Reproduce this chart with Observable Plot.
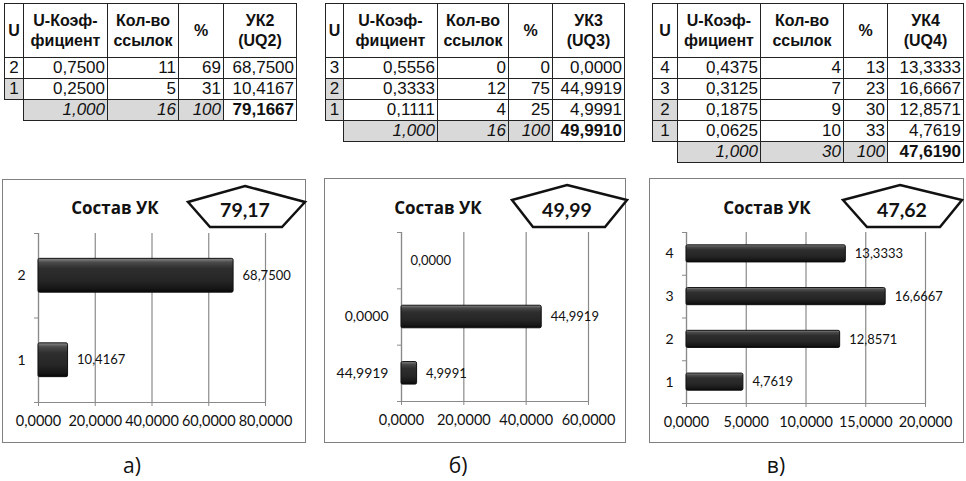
<!DOCTYPE html>
<html>
<head>
<meta charset="utf-8">
<script src="https://cdn.jsdelivr.net/npm/d3@7"></script>
<script src="https://cdn.jsdelivr.net/npm/@observablehq/plot@0.6"></script>
<style>
  html, body { margin: 0; padding: 0; background: #fff; }
  #page { position: relative; width: 966px; height: 481px; overflow: hidden; background: #fff; }
  .tbl { position: absolute; border-collapse: collapse; table-layout: fixed;
         font-family: "Liberation Sans", Arial, sans-serif; font-size: 17px; color: #111; }
  .tbl td, .tbl th { border: 1.5px solid #222; padding: 0 2px; height: 20px; line-height: 20px;
                     text-align: right; white-space: nowrap; overflow: hidden; }
  .tbl th { font-weight: bold; text-align: center; height: 53px; font-size: 16px; }
  .tbl td.u { text-align: center; padding: 0; }
  .tbl td.sh { background: #d9d9d9; }
  .tbl td.it { font-style: italic; background: #d9d9d9; }
  .tbl td.bd { font-weight: bold; }
  .tbl td.blank { border-left: none; border-bottom: none; background: #fff; }
  .box { position: absolute; box-sizing: border-box; border: 1.5px solid #808080; background: #fff; }
  .plot { position: absolute; }
  .cap { position: absolute; font-family: "Open Sans", "Noto Sans", sans-serif; font-size: 21px; color: #111;
         transform: translate(-50%, -50%); }
</style>
</head>
<body>
<div id="page">
  <svg width="0" height="0" style="position:absolute">
    <defs>
      <linearGradient id="barGrad" x1="0" y1="0" x2="0" y2="1">
        <stop offset="0%" stop-color="#8a8a8a"/>
        <stop offset="12%" stop-color="#4a4a4a"/>
        <stop offset="30%" stop-color="#2e2e2e"/>
        <stop offset="65%" stop-color="#262626"/>
        <stop offset="90%" stop-color="#161616"/>
        <stop offset="100%" stop-color="#050505"/>
      </linearGradient>
    </defs>
  </svg>
</div>
<script>
// ---------- Table data ----------
const headers = ["U", "U-Коэф-<br>фициент", "Кол-во<br>ссылок", "%"];
const ukHeaders = ["УК2<br>(UQ2)", "УК3<br>(UQ3)", "УК4<br>(UQ4)"];

const t1U = [2, 1];
const t1Coef = [0.7500, 0.2500];
const t1Refs = [11, 5];
const t1Pct = [69, 31];
const t1UK = [68.7500, 10.4167];
const t1Shade = [false, true];

const t2U = [3, 2, 1];
const t2Coef = [0.5556, 0.3333, 0.1111];
const t2Refs = [0, 12, 4];
const t2Pct = [0, 75, 25];
const t2UK = [0.0000, 44.9919, 4.9991];
const t2Shade = [false, true, true];

const t3U = [4, 3, 2, 1];
const t3Coef = [0.4375, 0.3125, 0.1875, 0.0625];
const t3Refs = [4, 7, 9, 10];
const t3Pct = [13, 23, 30, 33];
const t3UK = [13.3333, 16.6667, 12.8571, 4.7619];
const t3Shade = [false, false, true, true];

const totalCoef = ["1,000", "1,000", "1,000"];
const totalRefs = [16, 16, 30];
const totalPct = [100, 100, 100];
const totalUK = [79.1667, 49.9910, 47.6190];

// ---------- Chart data (bottom to top) ----------
const c1Cats = ["1", "2"];
const c1Vals = [10.4167, 68.7500];
const c2Cats = ["44,9919", "0,0000", ""];
const c2Vals = [4.9991, 44.9919, 0.0000];
const c3Cats = ["1", "2", "3", "4"];
const c3Vals = [4.7619, 12.8571, 16.6667, 13.3333];

const captions = ["а)", "б)", "в)"];
const chartTitle = "Состав УК";

// ---------- helpers ----------
const page = document.getElementById("page");
const f4 = v => d3.format(".4f")(v).replace(".", ",");
const f2 = v => d3.format(".2f")(v).replace(".", ",");

function makeTable(idx, U, coef, refs, pct, uk, shade, left, top, widths) {
  const t = document.createElement("table");
  t.className = "tbl";
  t.style.left = left + "px";
  t.style.top = top + "px";
  t.style.width = d3.sum(widths) + "px";
  let html = "<colgroup>" + widths.map(w => `<col style="width:${w}px">`).join("") + "</colgroup>";
  html += "<tr>" + headers.map(h => `<th>${h}</th>`).join("") + `<th>${ukHeaders[idx]}</th></tr>`;
  U.forEach((u, i) => {
    html += `<tr><td class="u${shade[i] ? " sh" : ""}">${u}</td><td>${f4(coef[i])}</td><td>${refs[i]}</td><td>${pct[i]}</td><td>${f4(uk[i])}</td></tr>`;
  });
  html += `<tr><td class="blank"></td><td class="it">${totalCoef[idx]}</td><td class="it">${totalRefs[idx]}</td><td class="it">${totalPct[idx]}</td><td class="bd">${f4(totalUK[idx])}</td></tr>`;
  t.innerHTML = html;
  page.appendChild(t);
}

makeTable(0, t1U, t1Coef, t1Refs, t1Pct, t1UK, t1Shade, 4, 3, [19, 84, 71, 45, 73]);
makeTable(1, t2U, t2Coef, t2Refs, t2Pct, t2UK, t2Shade, 325, 3, [18, 94, 71, 44, 72]);
makeTable(2, t3U, t3Coef, t3Refs, t3Pct, t3UK, t3Shade, 652, 3, [25, 83, 83, 44, 76]);

function addBox(l, t, r, b) {
  const d = document.createElement("div");
  d.className = "box";
  Object.assign(d.style, {left: l + "px", top: t + "px", width: (r - l) + "px", height: (b - t) + "px"});
  page.appendChild(d);
}

function barChart(cats, vals, xMax, xStep, pos) {
  const data = vals.map((v, i) => ({i, v, cat: cats[i]}));
  const n = data.length;
  const xt = d3.range(0, xMax + xStep / 2, xStep);
  const svg = Plot.plot({
    width: pos.w, height: pos.h,
    marginLeft: pos.mL, marginRight: pos.mR, marginTop: pos.mT, marginBottom: pos.mB,
    style: {fontFamily: "Lato, 'Open Sans', sans-serif", color: "#111", background: "transparent", overflow: "visible"},
    x: {domain: [0, xMax], label: null},
    y: {domain: [0, n], label: null},
    marks: [
      Plot.gridX(xt, {stroke: "#8a8a8a", strokeOpacity: 1, strokeWidth: 1.2}),
      Plot.ruleX([0], {stroke: "#8a8a8a", strokeWidth: 1.2}),
      Plot.ruleY([0], {stroke: "#8a8a8a", strokeWidth: 1.2}),
      Plot.axisX({ticks: xt, tickSize: 4, tickPadding: 9, tickFormat: f4, stroke: "#8a8a8a", fill: "#111", fontSize: 14.5, label: null}),
      Plot.axisY({ticks: d3.range(n + 1), tickSize: 4, tickFormat: () => "", stroke: "#8a8a8a", label: null}),
      Plot.axisY({ticks: data.map(d => d.i + 0.5), tickSize: 0, tickPadding: 13, tickFormat: t => cats[Math.floor(t)], fill: "#111", fontSize: 14, label: null}),
      Plot.rectX(data, {filter: d => d.v > 0, x1: 0, x2: "v", y1: d => d.i + 0.3, y2: d => d.i + 0.7,
        fill: "url(#barGrad)", stroke: "#111", strokeWidth: 1, rx: 1.5}),
      Plot.text(data, {x: "v", y: d => d.i + 0.5, text: d => f4(d.v), dx: 9, textAnchor: "start", fontSize: 13, fill: "#111"})
    ]
  });
  svg.classList.add("plot");
  svg.style.left = pos.l + "px";
  svg.style.top = pos.t + "px";
  page.appendChild(svg);
}

addBox(2, 179, 306, 443);
addBox(324, 178, 626, 443);
addBox(649, 178, 964, 443);

barChart(c1Cats, c1Vals, 80, 20, {l: 2, t: 215, w: 304, h: 228, mL: 36, mR: 41, mT: 18, mB: 41});
barChart(c2Cats, c2Vals, 60, 20, {l: 324, t: 215, w: 302, h: 228, mL: 77, mR: 38, mT: 17, mB: 42});
barChart(c3Cats, c3Vals, 20, 5, {l: 649, t: 215, w: 315, h: 228, mL: 37, mR: 39, mT: 17, mB: 40});

// ---------- titles & pentagon callouts ----------
const ns = "http://www.w3.org/2000/svg";
const over = document.createElementNS(ns, "svg");
over.setAttribute("width", 966);
over.setAttribute("height", 481);
over.style.position = "absolute";
over.style.left = "0px";
over.style.top = "0px";
over.style.pointerEvents = "none";
const titlePos = [[115, 207], [438, 207], [767, 207]];
const pent = [
  [[245,186],[305,202],[282,227],[210,227],[188,202]],
  [[567,185],[627,200],[605,227],[533,227],[512,200]],
  [[900,185],[962,200],[940,227],[867,227],[843,200]]
];
const pentText = [[245, 209], [567, 209], [902, 209]];
const ov = d3.select(over);
titlePos.forEach((p, k) => {
  ov.append("text").attr("x", p[0]).attr("y", p[1]).attr("text-anchor", "middle").attr("dominant-baseline", "central")
    .attr("font-family", "'Open Sans', 'Noto Sans', sans-serif").attr("font-weight", "bold").attr("font-size", 17)
    .attr("fill", "#111").text(chartTitle);
  ov.append("polygon").attr("points", pent[k].map(q => q.join(",")).join(" "))
    .attr("fill", "#fff").attr("stroke", "#111").attr("stroke-width", 2.5).attr("stroke-linejoin", "miter");
  ov.append("text").attr("x", pentText[k][0]).attr("y", pentText[k][1]).attr("text-anchor", "middle").attr("dominant-baseline", "central")
    .attr("font-family", "Lato, 'Open Sans', sans-serif").attr("font-weight", "bold").attr("font-size", 19.5)
    .attr("fill", "#111").text(f2(totalUK[k]));
});
page.appendChild(over);

// ---------- captions ----------
const capX = [132, 458, 776];
captions.forEach((c, k) => {
  const d = document.createElement("div");
  d.className = "cap";
  d.style.left = capX[k] + "px";
  d.style.top = "465px";
  d.textContent = c;
  page.appendChild(d);
});
</script>
</body>
</html>
